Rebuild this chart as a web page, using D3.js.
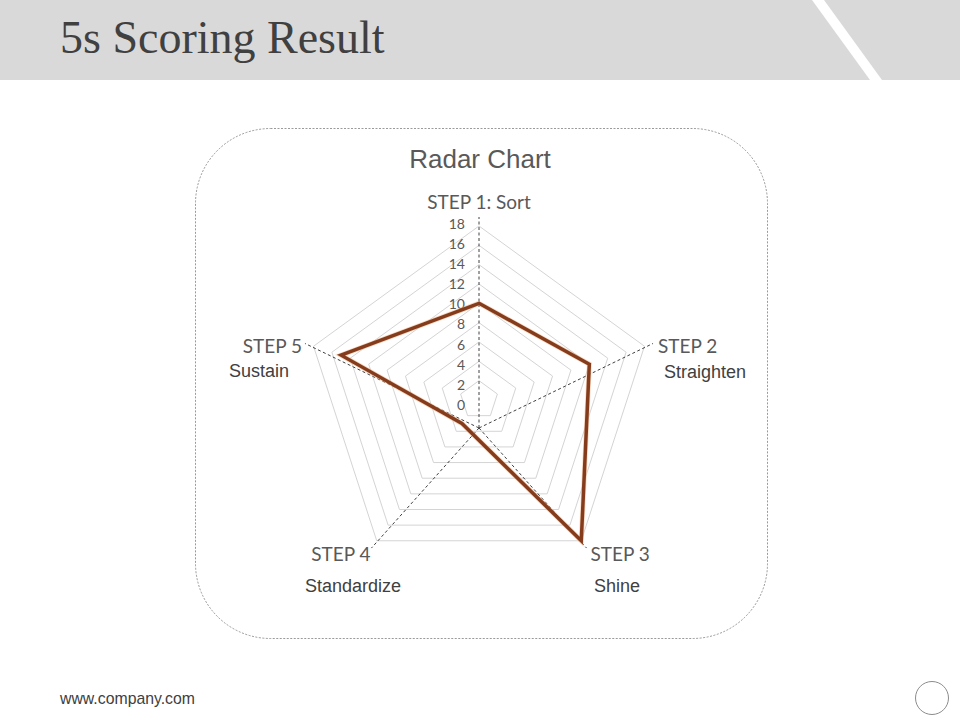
<!DOCTYPE html>
<html>
<head>
<meta charset="utf-8">
<script src="https://cdn.jsdelivr.net/npm/d3@7"></script>
<style>
  body { margin: 0; background: #fff; }
  svg { display: block; }
</style>
</head>
<body>
<svg width="960" height="720"></svg>
<script>
// data
var steps = ["STEP 1: Sort", "STEP 2", "STEP 3", "STEP 4", "STEP 5"];
var stepNames = ["", "Straighten", "Shine", "Standardize", "Sustain"];
var scores = [10, 12, 18, 3, 15];
var ticks = [0, 2, 4, 6, 8, 10, 12, 14, 16, 18];

var svg = d3.select("svg");

// header band with the white slash
svg.append("rect")
    .attr("x", 0).attr("y", 0)
    .attr("width", 960).attr("height", 80)
    .attr("fill", "#d9d9d9");

svg.append("polygon")
    .attr("points", "812,0 824,0 882,80 870,80")
    .attr("fill", "#fff");

svg.append("text")
    .attr("x", 60).attr("y", 53)
    .attr("font-family", "'Liberation Serif', 'DejaVu Serif', serif")
    .attr("font-size", 46)
    .attr("fill", "#404040")
    .text("5s Scoring Result");

// chart frame
svg.append("rect")
    .attr("x", 195.5).attr("y", 128.5)
    .attr("width", 572).attr("height", 510)
    .attr("rx", 75).attr("ry", 75)
    .attr("fill", "none")
    .attr("stroke", "#808080")
    .attr("stroke-width", 0.8)
    .attr("stroke-dasharray", "2,1.5");

svg.append("text")
    .attr("x", 480).attr("y", 168)
    .attr("text-anchor", "middle")
    .attr("font-family", "'Liberation Sans', Arial, sans-serif")
    .attr("font-size", 26)
    .attr("fill", "#595959")
    .text("Radar Chart");

// radar
var cx = 479, cy = 400;
var r = d3.scaleLinear().domain([0, 18]).range([0, 174]);
var angle = d3.scalePoint().domain(d3.range(steps.length)).range([0, 2 * Math.PI * (steps.length - 1) / steps.length]);

function pt(i, radius) {
    var a = angle(i) - Math.PI / 2;
    return [cx + radius * Math.cos(a), cy + radius * Math.sin(a)];
}

var g = svg.append("g");

// grid pentagons
g.selectAll(".grid")
    .data(ticks.filter(function(d) { return d > 0; }))
    .enter().append("polygon")
    .attr("class", "grid")
    .attr("points", function(d) {
        return d3.range(steps.length).map(function(i) { return pt(i, r(d)).join(","); }).join(" ");
    })
    .attr("fill", "none")
    .attr("stroke", "#d4d4d4")
    .attr("stroke-width", 1);

// dashed spokes (they meet a little below the centre in the original)
var hub = [cx, cy + 28];
g.selectAll(".spoke")
    .data(steps)
    .enter().append("line")
    .attr("class", "spoke")
    .attr("x1", hub[0]).attr("y1", hub[1])
    .attr("x2", function(d, i) { return pt(i, r(18) + 9)[0]; })
    .attr("y2", function(d, i) { return pt(i, r(18) + 9)[1]; })
    .attr("stroke", "#404040")
    .attr("stroke-width", 1)
    .attr("stroke-dasharray", "3,2.5");

// tick labels
g.selectAll(".tick")
    .data(ticks)
    .enter().append("text")
    .attr("class", "tick")
    .attr("x", 465)
    .attr("y", function(d) { return cy - r(d) * 1.04 + 5; })
    .attr("dy", "0.35em")
    .attr("text-anchor", "end")
    .attr("font-family", "Lato, 'Open Sans', sans-serif")
    .attr("font-size", 14)
    .attr("fill", "#595959")
    .text(function(d) { return d; });

// data line
var line = d3.line()
    .x(function(d, i) { return pt(i, r(d))[0]; })
    .y(function(d, i) { return pt(i, r(d))[1]; })
    .curve(d3.curveLinearClosed);

g.append("path")
    .datum(scores)
    .attr("d", line)
    .attr("fill", "none")
    .attr("stroke", "#f4b183")
    .attr("stroke-opacity", 0.5)
    .attr("stroke-width", 5)
    .attr("stroke-linejoin", "miter");

g.append("path")
    .datum(scores)
    .attr("d", line)
    .attr("fill", "none")
    .attr("stroke", "#843c1c")
    .attr("stroke-width", 3.5)
    .attr("stroke-linejoin", "miter");

// category labels
var labelPos = [
    { dx: 0, dy: -15, anchor: "middle" },
    { dx: 5, dy: 3, anchor: "start" },
    { dx: 4, dy: 6, anchor: "start" },
    { dx: -1, dy: 6, anchor: "end" },
    { dx: -3, dy: 3, anchor: "end" }
];

g.selectAll(".cat")
    .data(steps)
    .enter().append("text")
    .attr("class", "cat")
    .attr("x", function(d, i) { return pt(i, r(18) + 9)[0] + labelPos[i].dx; })
    .attr("y", function(d, i) { return pt(i, r(18) + 9)[1] + labelPos[i].dy; })
    .attr("dy", "0.35em")
    .attr("text-anchor", function(d, i) { return labelPos[i].anchor; })
    .attr("font-family", "Lato, 'Open Sans', sans-serif")
    .attr("font-size", 19)
    .attr("fill", "#595959")
    .text(function(d) { return d; });

// step names under the labels
var namePos = [null, [705, 372], [617, 586], [353, 586], [259, 371]];

g.selectAll(".name")
    .data(stepNames.filter(function(d) { return d; }))
    .enter().append("text")
    .attr("class", "name")
    .attr("x", function(d, i) { return namePos[i + 1][0]; })
    .attr("y", function(d, i) { return namePos[i + 1][1]; })
    .attr("dy", "0.35em")
    .attr("text-anchor", "middle")
    .attr("font-family", "'Liberation Sans', Arial, sans-serif")
    .attr("font-size", 18)
    .attr("fill", "#404040")
    .text(function(d) { return d; });

// footer
svg.append("text")
    .attr("x", 60).attr("y", 698)
    .attr("dy", "0.35em")
    .attr("font-family", "'Liberation Sans', Arial, sans-serif")
    .attr("font-size", 17)
    .attr("textLength", 135)
    .attr("lengthAdjust", "spacingAndGlyphs")
    .attr("fill", "#404040")
    .text("www.company.com");

svg.append("circle")
    .attr("cx", 932).attr("cy", 698).attr("r", 16.5)
    .attr("fill", "#fff")
    .attr("stroke", "#8c8c8c")
    .attr("stroke-width", 1);
</script>
</body>
</html>
